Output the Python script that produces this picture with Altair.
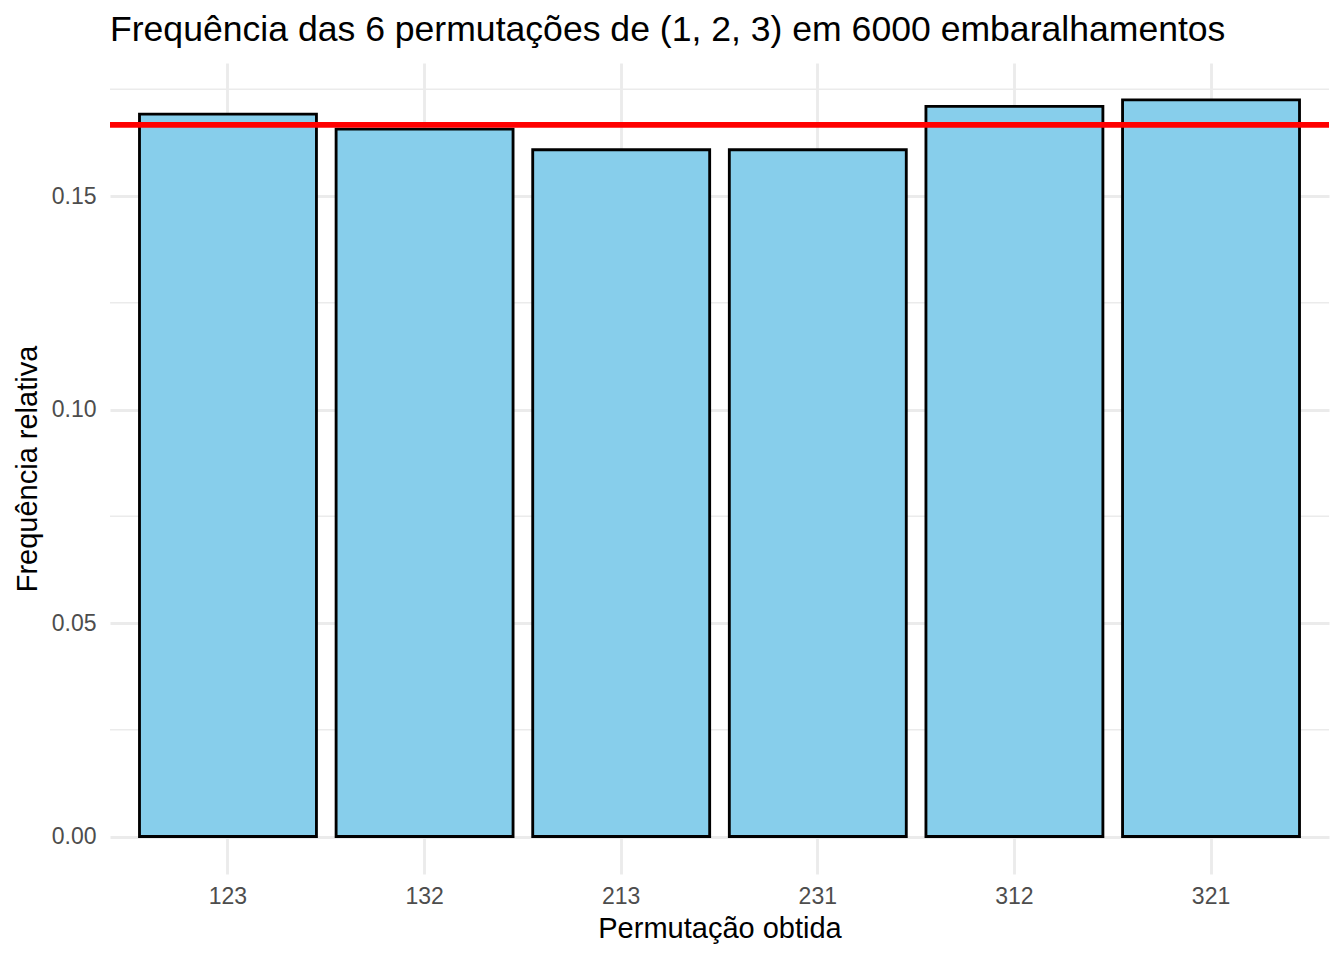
import altair as alt
import pandas as pd

permutations = ["123", "132", "213", "231", "312", "321"]
counts = [1015, 994, 965, 965, 1026, 1035]
total = 6000
expected = 1 / 6
y_major = [0.0, 0.05, 0.10, 0.15]
y_minor = [0.025, 0.075, 0.125, 0.175]

df = pd.DataFrame({"perm": permutations, "count": counts})
df["freq"] = df["count"] / total
minor_df = pd.DataFrame({"v": y_minor})

FONT = "Liberation Sans"
GRID = "#ebebeb"

xscale = alt.Scale(paddingInner=0.1, paddingOuter=0.15)
yscale = alt.Scale(domain=[-0.00878, 0.18115], nice=False, zero=False)

x_enc = alt.X(
    "perm:N",
    scale=xscale,
    sort=permutations,
    axis=alt.Axis(
        title="Permutação obtida",
        labelAngle=0,
        ticks=False,
        tickSize=0,
        domain=False,
        grid=True,
        gridColor=GRID,
        gridWidth=2.85,
        bandPosition=0.5,
        labelFont=FONT,
        labelFontSize=23,
        labelColor="#4d4d4d",
        labelBaseline="alphabetic",
        labelPadding=29.5,
        titleFont=FONT,
        titleFontSize=29,
        titleFontWeight="normal",
        titleColor="black",
        titleBaseline="alphabetic",
        titleX=609.5,
        titleY=63,
    ),
)

y_enc = alt.Y(
    "freq:Q",
    scale=yscale,
    stack=None,
    axis=alt.Axis(
        title="Frequência relativa",
        values=y_major,
        format=".2f",
        ticks=False,
        tickSize=0,
        domain=False,
        grid=True,
        gridColor=GRID,
        gridWidth=2.85,
        labelFont=FONT,
        labelFontSize=23,
        labelColor="#4d4d4d",
        labelPadding=14,
        labelAlign="right",
        labelBaseline="middle",
        titleFont=FONT,
        titleFontSize=29,
        titleFontWeight="normal",
        titleColor="black",
        titleBaseline="alphabetic",
        titleAngle=270,
        titleAlign="center",
        titleX=-74,
        titleY=405.5,
    ),
)

minor = alt.Chart(minor_df).mark_rule(color=GRID, strokeWidth=1.4).encode(
    y=alt.Y("v:Q", scale=yscale)
)

bars = alt.Chart(df).mark_bar(
    fill="#87CEEB", stroke="black", strokeWidth=2.85
).encode(
    x=x_enc,
    y=y_enc,
    y2=alt.datum(0),
)

hline = alt.Chart(pd.DataFrame({"e": [expected]})).mark_rule(
    color="#FF0000", strokeWidth=5.7
).encode(y=alt.Y("e:Q", scale=yscale))

chart = alt.layer(minor, bars, hline).properties(
    width=1219,
    height=811,
    padding={"left": 102, "top": 55, "right": 7, "bottom": 80},
    autosize=alt.AutoSizeParams(type="none"),
    title=alt.TitleParams(
        "Frequência das 6 permutações de (1, 2, 3) em 6000 embaralhamentos",
        anchor="start",
        frame="group",
        font=FONT,
        fontSize=35.6,
        fontWeight="normal",
        color="black",
        baseline="alphabetic",
        offset=22,
        dy=36,
    ),
).configure_view(stroke=None)

chart.save("out.html", embed_options={"renderer": "svg", "actions": False})
